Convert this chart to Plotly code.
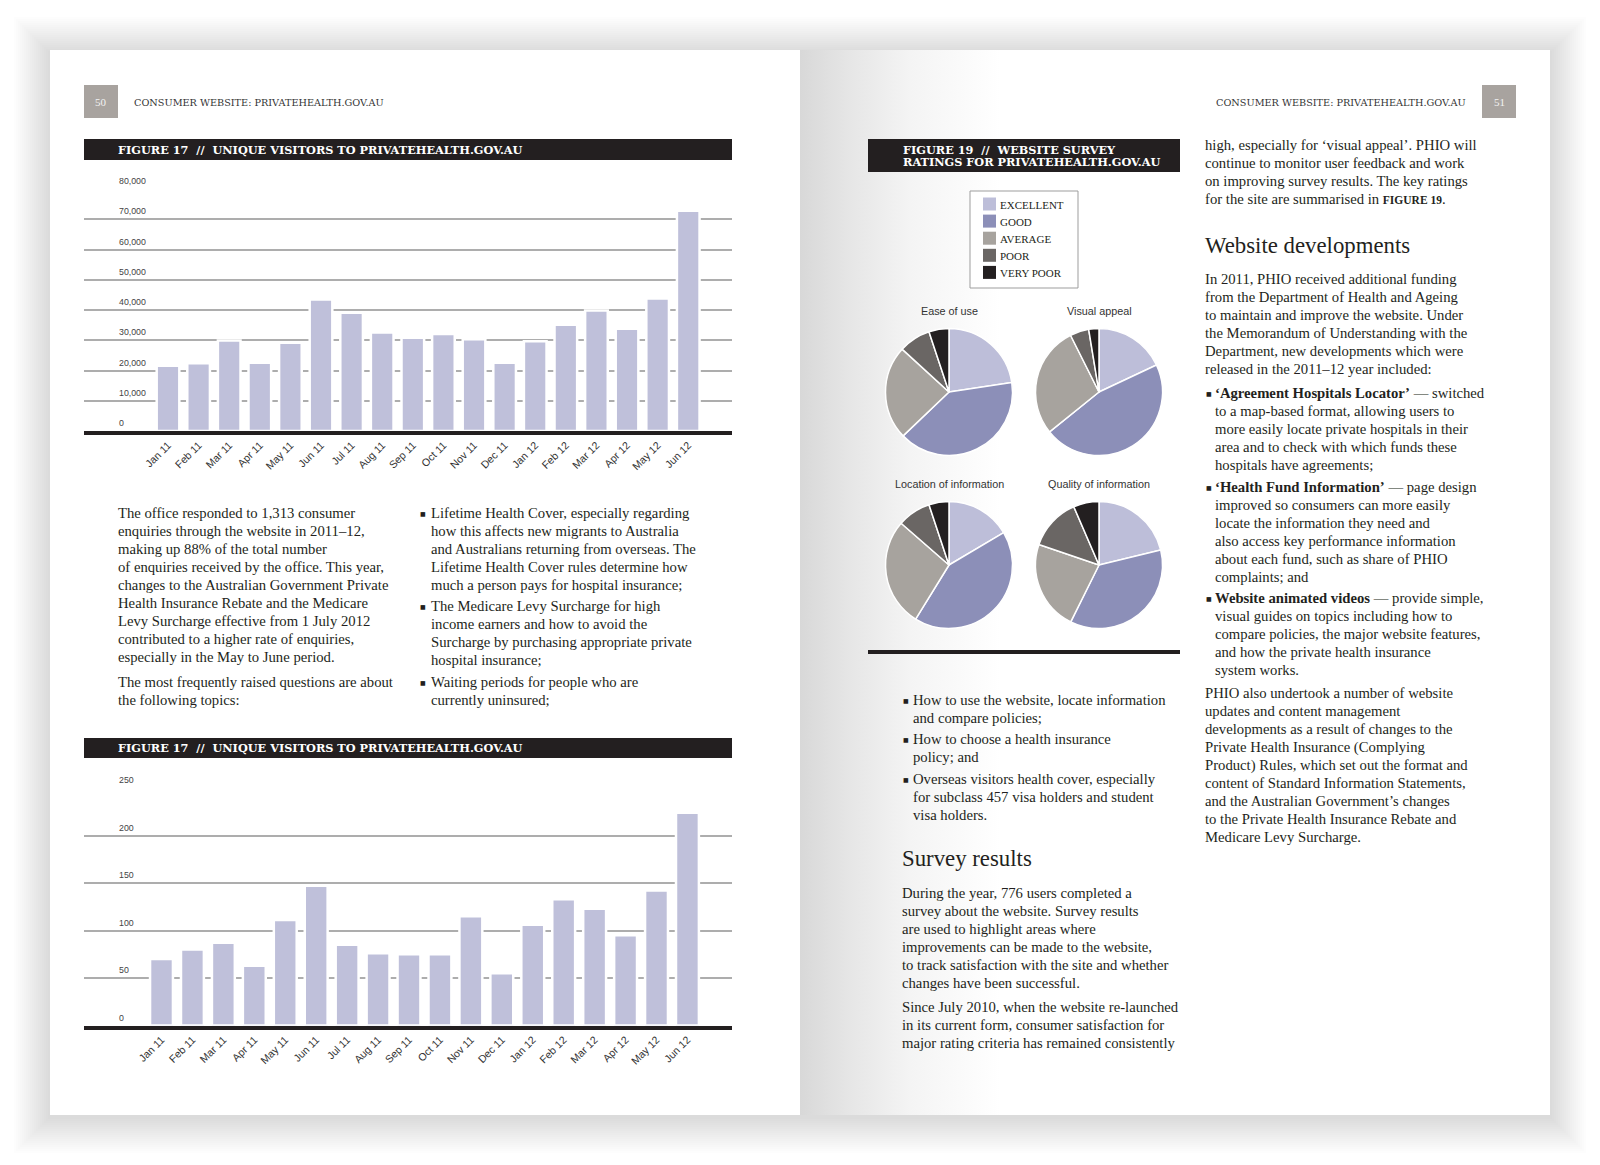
import plotly.graph_objects as go

W, H = 1600, 1165

# ---------------- data ----------------
months = ["Jan 11", "Feb 11", "Mar 11", "Apr 11", "May 11", "Jun 11", "Jul 11", "Aug 11", "Sep 11",
          "Oct 11", "Nov 11", "Dec 11", "Jan 12", "Feb 12", "Mar 12", "Apr 12", "May 12", "Jun 12"]
visitors_top = [21600, 22400, 29900, 22600, 29200, 43500, 39100, 32600, 30800,
                32100, 30300, 22600, 29700, 35100, 39800, 33800, 43800, 72800]
visitors_bottom = [70, 80, 87, 63, 111, 147, 85, 76, 75, 75, 115, 55, 106, 133, 123, 95, 142, 224]
yticks_top = [0, 10000, 20000, 30000, 40000, 50000, 60000, 70000, 80000]
yticks_top_labels = ["0", "10,000", "20,000", "30,000", "40,000", "50,000", "60,000", "70,000", "80,000"]
yticks_bottom = [0, 50, 100, 150, 200, 250]
yticks_bottom_labels = ["0", "50", "100", "150", "200", "250"]

ratings = ["EXCELLENT", "GOOD", "AVERAGE", "POOR", "VERY POOR"]
rating_colors = ["#bdbed9", "#8c8fb8", "#a7a39e", "#6a6664", "#231f20"]
pie_titles = ["Ease of use", "Visual appeal", "Location of information", "Quality of information"]
ease_of_use = [22.6, 40.2, 23.9, 8.1, 5.1]
visual_appeal = [18.0, 46.2, 28.4, 4.8, 2.6]
location_info = [16.5, 42.3, 27.6, 8.5, 5.1]
quality_info = [21.2, 36.2, 22.9, 13.3, 6.5]
pie_values = [ease_of_use, visual_appeal, location_info, quality_info]

# ---------------- style ----------------
INK = "#231f20"
BAR = "#bfc0da"
GRID = "#adadad"
SERIF = "Liberation Serif, Times New Roman, serif"
WIDE_SERIF = "DejaVu Serif, Liberation Serif, serif"
SANS = "Liberation Sans, Arial, sans-serif"
BODY = 14.7
PIE_CENTERS = [(949, 392), (1099, 392), (949, 565), (1099, 565)]
PIE_R = 63.5
LEGEND_BOX = (970, 1078, 191, 288)

fig = go.Figure()

# right page gutter shading
fig.add_trace(go.Scatter(
    x=[800, 1000, 1000, 800, 800], y=[50, 50, 1115, 1115, 50], xaxis="x", yaxis="y",
    mode="lines", fill="toself", line=dict(width=0),
    fillgradient=dict(type="horizontal",
                      colorscale=[[0, "#d8d8d8"], [0.25, "#e6e6e6"], [0.55, "#f4f4f4"], [1, "#ffffff"]]),
    hoverinfo="skip", showlegend=False))

# bar charts
fig.add_trace(go.Bar(x=months, y=visitors_top, xaxis="x2", yaxis="y2", width=0.74,
                     marker=dict(color=BAR, line=dict(color="white", width=2.5)),
                     showlegend=False, hovertemplate="%{x}: %{y:,}<extra></extra>"))
fig.add_trace(go.Bar(x=months, y=visitors_bottom, xaxis="x3", yaxis="y3", width=0.74,
                     marker=dict(color=BAR, line=dict(color="white", width=2.5)),
                     showlegend=False, hovertemplate="%{x}: %{y}<extra></extra>"))

# pies
for vals, (cx, cy) in zip(pie_values, PIE_CENTERS):
    fig.add_trace(go.Pie(
        labels=ratings, values=vals, sort=False, direction="clockwise", rotation=0,
        marker=dict(colors=rating_colors, line=dict(color="white", width=1.5)),
        textinfo="none", hoverinfo="label+percent", showlegend=False,
        domain=dict(x=[(cx - PIE_R) / W, (cx + PIE_R) / W],
                    y=[1 - (cy + PIE_R) / H, 1 - (cy - PIE_R) / H])))

shapes = []
# page shadow
for k in range(1, 19):
    shapes.append(dict(type="rect", xref="x", yref="y", x0=50 - 2 * k, x1=1550 + 2 * k,
                       y0=50 - 2 * k + 3, y1=1115 + 2 * k + 2, fillcolor="rgba(0,0,0,0.009)",
                       line=dict(width=0), layer="below"))
shapes.append(dict(type="rect", xref="x", yref="y", x0=50, x1=1550, y0=50, y1=1115,
                   fillcolor="white", line=dict(width=0), layer="below"))
# page number boxes
for x0 in (84, 1482):
    shapes.append(dict(type="rect", xref="x", yref="y", x0=x0, x1=x0 + 34, y0=85, y1=118,
                       fillcolor="#a8a39f", line=dict(width=0), layer="above"))
# figure header bars
shapes.append(dict(type="rect", xref="x", yref="y", x0=84, x1=732, y0=139, y1=160,
                   fillcolor=INK, line=dict(width=0), layer="above"))
shapes.append(dict(type="rect", xref="x", yref="y", x0=84, x1=732, y0=738, y1=758,
                   fillcolor=INK, line=dict(width=0), layer="above"))
shapes.append(dict(type="rect", xref="x", yref="y", x0=868, x1=1180, y0=139, y1=172,
                   fillcolor=INK, line=dict(width=0), layer="above"))
# rule under pies
shapes.append(dict(type="line", xref="x", yref="y", x0=868, x1=1180, y0=652, y1=652,
                   line=dict(color=INK, width=4), layer="above"))
# legend box
lx0, lx1, ly0, ly1 = LEGEND_BOX
shapes.append(dict(type="rect", xref="x", yref="y", x0=lx0, x1=lx1, y0=ly0, y1=ly1,
                   fillcolor="white", line=dict(color="#9d9d9d", width=1), layer="above"))

ann = []


def text(x, y, s, size=BODY, family=SERIF, color=INK, xanchor="left", yanchor="middle", **kw):
    if xanchor == "left":
        x -= 1.8
    elif xanchor == "right":
        x += 1.8
    ann.append(dict(x=x, y=y, xref="x", yref="y", text=s, showarrow=False, xanchor=xanchor,
                    yanchor=yanchor, font=dict(family=family, size=size, color=color), **kw))


def para(x, y0, lines, dy=18.06, size=BODY):
    for i, ln in enumerate(lines):
        text(x, y0 + i * dy, ln, size=size)


def bullet(xb, xt, y0, lines):
    text(xb - 1, y0 + 0.5, "■", size=6, family="DejaVu Sans, sans-serif")
    para(xt, y0, lines)


# legend entries
for i, (lab, col) in enumerate(zip(ratings, rating_colors)):
    yc = 204 + i * 17.1
    shapes.append(dict(type="rect", xref="x", yref="y", x0=983, x1=996, y0=yc - 6.5, y1=yc + 6.5,
                       fillcolor=col, line=dict(width=0), layer="above"))
    text(1000, yc + 0.5, lab, size=11, family=SERIF)

# running heads
text(101, 102, "50", size=11, color="#f2f2f2", xanchor="center")
text(1499, 102, "51", size=11, color="#f2f2f2", xanchor="center")
text(134, 102, "CONSUMER WEBSITE: PRIVATEHEALTH.GOV.AU", size=9.7, family=WIDE_SERIF, color="#333333")
text(1466, 102, "CONSUMER WEBSITE: PRIVATEHEALTH.GOV.AU", size=9.7, family=WIDE_SERIF, color="#333333",
     xanchor="right")

# figure titles
TITLE = 11.3
text(118, 149.5, "<b>FIGURE 17  //  UNIQUE VISITORS TO PRIVATEHEALTH.GOV.AU</b>", size=TITLE,
     family=WIDE_SERIF, color="white")
text(118, 748, "<b>FIGURE 17  //  UNIQUE VISITORS TO PRIVATEHEALTH.GOV.AU</b>", size=TITLE,
     family=WIDE_SERIF, color="white")
text(903, 149.5, "<b>FIGURE 19  //  WEBSITE SURVEY</b>", size=TITLE, family=WIDE_SERIF, color="white")
text(903, 161.5, "<b>RATINGS FOR PRIVATEHEALTH.GOV.AU</b>", size=TITLE, family=WIDE_SERIF, color="white")

# y tick labels (above gridlines)
for v, lab in zip(yticks_top, yticks_top_labels):
    ann.append(dict(x=117, y=v, xref="x", yref="y2", text=lab, showarrow=False, xanchor="left",
                    yanchor="bottom", yshift=1, font=dict(family=SANS, size=8.8, color="#444444")))
for v, lab in zip(yticks_bottom, yticks_bottom_labels):
    ann.append(dict(x=117, y=v, xref="x", yref="y3", text=lab, showarrow=False, xanchor="left",
                    yanchor="bottom", yshift=1, font=dict(family=SANS, size=8.8, color="#444444")))

# pie titles
for t, (cx, cy) in zip(pie_titles, PIE_CENTERS):
    text(cx, cy - 81, t, size=10.8, family=SANS, color="#333333", xanchor="center")

# ---- left page body text ----
para(118, 513, ["The office responded to 1,313 consumer",
                "enquiries through the website in 2011–12,",
                "making up 88% of the total number",
                "of enquiries received by the office. This year,",
                "changes to the Australian Government Private",
                "Health Insurance Rebate and the Medicare",
                "Levy Surcharge effective from 1 July 2012",
                "contributed to a higher rate of enquiries,",
                "especially in the May to June period."])
para(118, 681.6, ["The most frequently raised questions are about",
                  "the following topics:"])
bullet(421, 431, 513, ["Lifetime Health Cover, especially regarding",
                       "how this affects new migrants to Australia",
                       "and Australians returning from overseas. The",
                       "Lifetime Health Cover rules determine how",
                       "much a person pays for hospital insurance;"])
bullet(421, 431, 606, ["The Medicare Levy Surcharge for high",
                       "income earners and how to avoid the",
                       "Surcharge by purchasing appropriate private",
                       "hospital insurance;"])
bullet(421, 431, 681.6, ["Waiting periods for people who are",
                         "currently uninsured;"])

# ---- right page, middle column ----
bullet(904, 913, 700, ["How to use the website, locate information", "and compare policies;"])
bullet(904, 913, 739, ["How to choose a health insurance", "policy; and"])
bullet(904, 913, 778.6, ["Overseas visitors health cover, especially",
                         "for subclass 457 visa holders and student",
                         "visa holders."])
text(902, 858, "Survey results", size=22.8)
para(902, 893, ["During the year, 776 users completed a",
                "survey about the website. Survey results",
                "are used to highlight areas where",
                "improvements can be made to the website,",
                "to track satisfaction with the site and whether",
                "changes have been successful."])
para(902, 1007, ["Since July 2010, when the website re-launched",
                 "in its current form, consumer satisfaction for",
                 "major rating criteria has remained consistently"])

# ---- right page, right column ----
para(1205, 145, ["high, especially for ‘visual appeal’. PHIO will",
                 "continue to monitor user feedback and work",
                 "on improving survey results. The key ratings",
                 "for the site are summarised in <b><span style='font-size:11.5px'>FIGURE 19</span></b>."])
text(1205, 245, "Website developments", size=22.8)
para(1205, 278.6, ["In 2011, PHIO received additional funding",
                   "from the Department of Health and Ageing",
                   "to maintain and improve the website. Under",
                   "the Memorandum of Understanding with the",
                   "Department, new developments which were",
                   "released in the 2011–12 year included:"])
bullet(1207, 1215, 393, ["<b>‘Agreement Hospitals Locator’</b> — switched",
                         "to a map-based format, allowing users to",
                         "more easily locate private hospitals in their",
                         "area and to check with which funds these",
                         "hospitals have agreements;"])
bullet(1207, 1215, 487, ["<b>‘Health Fund Information’</b> — page design",
                         "improved so consumers can more easily",
                         "locate the information they need and",
                         "also access key performance information",
                         "about each fund, such as share of PHIO",
                         "complaints; and"])
bullet(1207, 1215, 598, ["<b>Website animated videos</b> — provide simple,",
                         "visual guides on topics including how to",
                         "compare policies, the major website features,",
                         "and how the private health insurance",
                         "system works."])
para(1205, 693, ["PHIO also undertook a number of website",
                 "updates and content management",
                 "developments as a result of changes to the",
                 "Private Health Insurance (Complying",
                 "Product) Rules, which set out the format and",
                 "content of Standard Information Statements,",
                 "and the Australian Government’s changes",
                 "to the Private Health Insurance Rebate and",
                 "Medicare Levy Surcharge."])

bar_xaxis = dict(type="category", showline=True, linecolor=INK, linewidth=4, ticks="",
                 tickangle=-45, showgrid=False, zeroline=False, fixedrange=True,
                 tickfont=dict(family=SANS, size=10.6, color="#333333"))
bar_yaxis = dict(showticklabels=False, gridcolor=GRID, gridwidth=1.5, zeroline=False,
                 showline=False, ticks="", fixedrange=True)

fig.update_layout(
    width=W, height=H, margin=dict(l=0, r=0, t=0, b=0),
    paper_bgcolor="white", plot_bgcolor="rgba(0,0,0,0)", showlegend=False,
    xaxis=dict(domain=[0, 1], range=[0, W], visible=False, fixedrange=True),
    yaxis=dict(domain=[0, 1], range=[H, 0], visible=False, fixedrange=True),
    xaxis2=dict(bar_xaxis, domain=[84 / W, 732 / W], range=[-2.745, 18.43], anchor="y2"),
    yaxis2=dict(bar_yaxis, domain=[1 - 431 / H, 1 - 189 / H], range=[0, 80000],
                tickvals=yticks_top, anchor="x2"),
    xaxis3=dict(bar_xaxis, domain=[84 / W, 732 / W], range=[-2.505, 18.44], anchor="y3"),
    yaxis3=dict(bar_yaxis, domain=[1 - 1025.5 / H, 1 - 788 / H], range=[0, 250],
                tickvals=yticks_bottom, anchor="x3"),
    shapes=shapes, annotations=ann,
)

fig.write_html("out.html", config={"displayModeBar": False},
               post_script="document.body.style.margin='0px';")
